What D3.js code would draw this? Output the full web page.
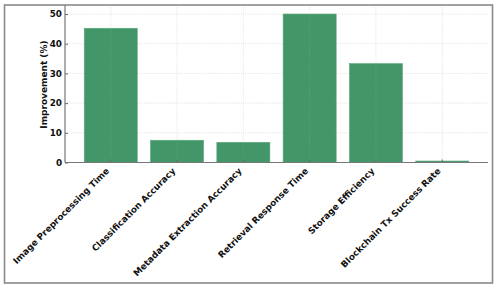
<!DOCTYPE html>
<html>
<head>
<meta charset="utf-8">
<script src="https://cdn.jsdelivr.net/npm/d3@7"></script>
<style>
  html, body { margin: 0; padding: 0; background: #fff; }
  svg { display: block; }
  text { font-family: "DejaVu Sans", sans-serif; font-weight: bold; fill: #111; }
</style>
</head>
<body>
<div id="chart-area"></div>
<script>
const categories = [
    'Image Preprocessing Time',
    'Classification Accuracy',
    'Metadata Extraction Accuracy',
    'Retrieval Response Time',
    'Storage Efficiency',
    'Blockchain Tx Success Rate'
];
const improvement = [45.2, 7.5, 6.8, 50.0, 33.3, 0.5];
const yTicks = [0, 10, 20, 30, 40, 50];
const yLabel = 'Improvement (%)';

const W = 497, H = 288;
const margin = { top: 6.6, right: 9, bottom: 125.5, left: 65 };

const svg = d3.select('#chart-area')
    .append('svg')
    .attr('width', W)
    .attr('height', H);

// outer frame
svg.append('rect')
    .attr('x', 4.5).attr('y', 5)
    .attr('width', 488).attr('height', 278)
    .attr('fill', '#fff')
    .attr('stroke', '#8a8a8a')
    .attr('stroke-width', 1.6);

const x = d3.scaleBand()
    .domain(categories)
    .range([margin.left, W - margin.right])
    .paddingInner(0.2)
    .paddingOuter(0.29);

const y = d3.scaleLinear()
    .domain([0, 52.5])
    .range([H - margin.bottom, margin.top]);

const x0 = margin.left, x1 = W - margin.right;
const y0 = y(0);

// grid
const grid = svg.append('g')
    .attr('stroke', '#cfcfcf')
    .attr('stroke-width', 0.6)
    .attr('stroke-dasharray', '1,1.2');
grid.selectAll('line.h')
    .data(yTicks)
    .join('line')
    .attr('class', 'h')
    .attr('x1', x0).attr('x2', x1)
    .attr('y1', d => y(d)).attr('y2', d => y(d));
grid.selectAll('line.v')
    .data(categories)
    .join('line')
    .attr('class', 'v')
    .attr('x1', d => x(d) + x.bandwidth() / 2)
    .attr('x2', d => x(d) + x.bandwidth() / 2)
    .attr('y1', y(52.5)).attr('y2', y0);

// bars
svg.append('g')
    .selectAll('rect')
    .data(categories)
    .join('rect')
    .attr('x', d => x(d))
    .attr('y', (d, i) => y(improvement[i]))
    .attr('width', x.bandwidth())
    .attr('height', (d, i) => y0 - y(improvement[i]))
    .attr('fill', '#2e8b57')
    .attr('fill-opacity', 0.9)
    .attr('stroke', '#5aa87c')
    .attr('stroke-width', 0.6);

// grid shows faintly through the bars
svg.append('g')
    .attr('stroke', '#ffffff')
    .attr('stroke-opacity', 0.25)
    .attr('stroke-width', 0.6)
    .attr('stroke-dasharray', '1,1.2')
    .selectAll('line')
    .data(categories)
    .join('line')
    .attr('x1', d => x(d) + x.bandwidth() / 2)
    .attr('x2', d => x(d) + x.bandwidth() / 2)
    .attr('y1', y(52.5)).attr('y2', y0);

// y axis
const yAxis = svg.append('g')
    .attr('transform', `translate(${x0},0)`)
    .call(d3.axisLeft(y).tickValues(yTicks).tickSize(-3).tickPadding(3));
yAxis.select('.domain').remove();
yAxis.selectAll('.tick line').attr('stroke', '#666');
yAxis.selectAll('.tick text')
    .attr('font-size', 8.8)
    .attr('font-family', '"DejaVu Sans", sans-serif')
    .attr('font-weight', 'bold');

// x axis ticks
const xAxis = svg.append('g')
    .attr('transform', `translate(0,${y0})`)
    .call(d3.axisBottom(x).tickSize(-3).tickFormat(''));
xAxis.select('.domain').remove();
xAxis.selectAll('.tick line').attr('stroke', '#666');

// spines
svg.append('line')
    .attr('x1', x0).attr('x2', x0)
    .attr('y1', 5).attr('y2', y0)
    .attr('stroke', '#777').attr('stroke-width', 1.2);
svg.append('line')
    .attr('x1', x0).attr('x2', x1)
    .attr('y1', y0).attr('y2', y0)
    .attr('stroke', '#777').attr('stroke-width', 1.2);

// x labels
svg.append('g')
    .selectAll('text')
    .data(categories)
    .join('text')
    .attr('transform', d => `translate(${x(d) + x.bandwidth() / 2 - 1},${y0 + 9}) rotate(-45)`)
    .attr('text-anchor', 'end')
    .attr('font-size', 8.8)
    .text(d => d);

// y label
svg.append('text')
    .attr('transform', `translate(${46.5},${(y0 + margin.top) / 2}) rotate(-90)`)
    .attr('text-anchor', 'middle')
    .attr('font-size', 9)
    .text(yLabel);
</script>
</body>
</html>
